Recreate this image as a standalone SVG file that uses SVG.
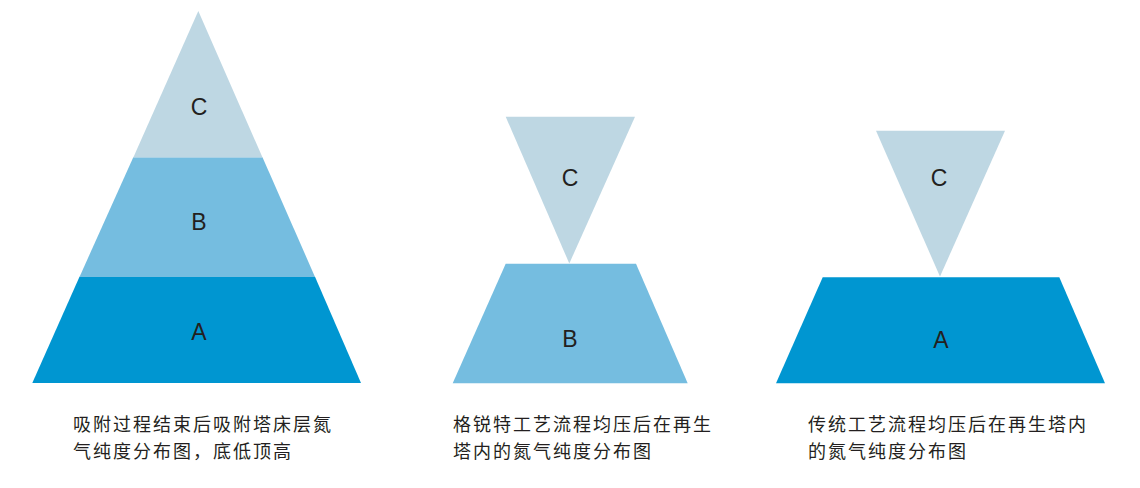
<svg xmlns="http://www.w3.org/2000/svg" width="1140" height="488" viewBox="0 0 1140 488">
<style>
.a{fill:#0096D1}
.b{fill:#75BDE0}
.c{fill:#BED7E3}
.lbl{font-family:"Liberation Sans",Arial,sans-serif;font-size:23px;fill:#231F20;text-anchor:middle}
.cap{font-family:"Noto Sans CJK SC","Noto Sans",sans-serif;font-size:18px;letter-spacing:2px;fill:#231F20}
</style>
<rect width="1140" height="488" fill="#FFFFFF"/>
<g id="pyramid">
<polygon class="a" points="79.5,276.7 315,276.7 361,383 32.3,383"/>
<polygon class="b" points="133.3,157.3 262.5,157.3 315,276.9 79.5,276.9"/>
<polygon class="c" points="198.3,11 262.5,157.5 133.3,157.5"/>
<text class="lbl" x="199" y="115">C</text>
<text class="lbl" x="199" y="230">B</text>
<text class="lbl" x="199" y="340">A</text>
</g>
<g id="middle">
<polygon class="c" points="505.7,116.7 635,116.7 569.3,263.5"/>
<polygon class="b" points="505.7,263.7 636,263.7 687.7,383.3 452.7,383.3"/>
<text class="lbl" x="570" y="186">C</text>
<text class="lbl" x="570" y="346.5">B</text>
</g>
<g id="right">
<polygon class="c" points="876,130.7 1005,130.7 940,276.5"/>
<polygon class="a" points="822.7,277.3 1059.3,277.3 1105,383.3 776,383.3"/>
<text class="lbl" x="939" y="186">C</text>
<text class="lbl" x="941" y="347.5">A</text>
</g>
<g id="captions">
<text class="cap" x="73" y="431">吸附过程结束后吸附塔床层氮</text>
<text class="cap" x="73" y="458">气纯度分布图，底低顶高</text>
<text class="cap" x="453" y="431">格锐特工艺流程均压后在再生</text>
<text class="cap" x="453" y="458">塔内的氮气纯度分布图</text>
<text class="cap" x="808" y="431">传统工艺流程均压后在再生塔内</text>
<text class="cap" x="808" y="458">的氮气纯度分布图</text>
</g>
<g id="connectors"></g>
</svg>
